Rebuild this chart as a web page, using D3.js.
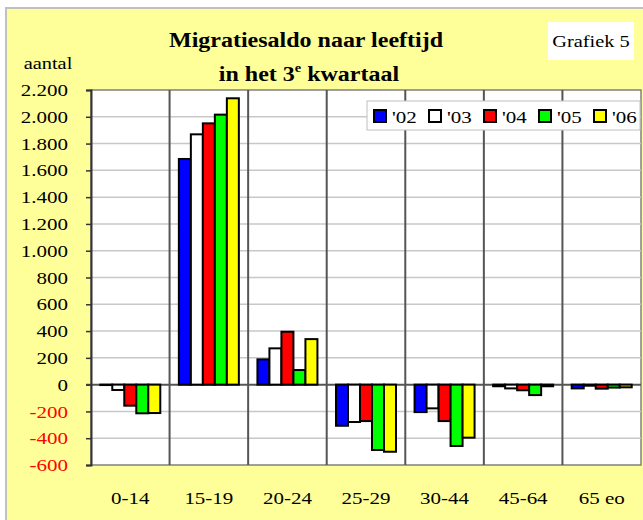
<!DOCTYPE html>
<meta charset="utf-8">
<head>
<title>Migratiesaldo naar leeftijd</title>
<style>
body { margin: 0; background-color: #FFF; }
svg text { font-family: 'Liberation Serif', 'Times New Roman', serif; }
</style>
</head>
<body>
<script src="https://cdn.jsdelivr.net/npm/d3@7"></script>
<script>
var categories = ["0-14", "15-19", "20-24", "25-29", "30-44", "45-64", "65 eo"];
var seriesNames = ["'02", "'03", "'04", "'05", "'06"];
var seriesColors = ["#0000FF", "#FFFFFF", "#FF0000", "#00FF00", "#FFFF00"];
var v02 = [-3, 1685, 189, -307, -205, -12, -28];
var v03 = [-40, 1869, 271, -279, -177, -28, -8];
var v04 = [-157, 1951, 395, -272, -272, -42, -30];
var v05 = [-214, 2016, 109, -488, -458, -78, -22];
var v06 = [-212, 2138, 340, -501, -396, -12, -20];
var yTicks = [-600, -400, -200, 0, 200, 400, 600, 800, 1000, 1200, 1400, 1600, 1800, 2000, 2200];

var series = [v02, v03, v04, v05, v06];
var width = 643, height = 520;
var plot = {left: 91, top: 90, right: 641, bottom: 465};
var SX = 1.2; // the original text is a bit wider than it is tall

var svg = d3.select("body").append("svg")
    .attr("width", width)
    .attr("height", height)
    .attr("font-family", "'Liberation Serif', serif");

// draws text at x,y stretched horizontally
function label(parent, x, y, str, size, anchor) {
    return parent.append("text")
        .attr("transform", "translate(" + x + "," + y + ") scale(" + SX + ",1)")
        .attr("text-anchor", anchor || "middle")
        .attr("font-size", size)
        .text(str);
}

// background
svg.append("rect").attr("x", 6).attr("y", 8).attr("width", width).attr("height", height)
    .attr("fill", "#FFFF99").attr("stroke", "#C0C0C0").attr("stroke-width", 2);

var x = d3.scaleBand().domain(categories).range([plot.left, plot.right]).padding(0);
var xs = d3.scaleBand().domain(d3.range(5)).range([0, 60]);
var y = d3.scaleLinear().domain([-600, 2200]).range([plot.bottom, plot.top]);

svg.append("rect").attr("x", plot.left).attr("y", plot.top)
    .attr("width", plot.right - plot.left).attr("height", plot.bottom - plot.top)
    .attr("fill", "#FFF").attr("stroke", "#808080").attr("stroke-width", 1.5);

// horizontal grid
svg.append("g").selectAll("line").data(yTicks.filter(function(d){return d != 0 && d != -600 && d != 2200;}))
    .enter().append("line")
    .attr("x1", plot.left).attr("x2", plot.right)
    .attr("y1", function(d){return y(d);}).attr("y2", function(d){return y(d);})
    .attr("stroke", "#C8C8C8").attr("stroke-width", 1.5);

// vertical category dividers
svg.append("g").selectAll("line").data(categories.slice(1))
    .enter().append("line")
    .attr("x1", function(d){return x(d);}).attr("x2", function(d){return x(d);})
    .attr("y1", plot.top).attr("y2", plot.bottom)
    .attr("stroke", "#555").attr("stroke-width", 2);

// zero line
svg.append("line").attr("x1", plot.left - 5).attr("x2", plot.right)
    .attr("y1", y(0)).attr("y2", y(0))
    .attr("stroke", "#555").attr("stroke-width", 2);

// bars
var groups = svg.append("g").selectAll("g").data(categories)
    .enter().append("g")
    .attr("transform", function(d){return "translate(" + (x(d) + (x.bandwidth() - 60) / 2) + ",0)";});
groups.selectAll("rect").data(function(d, i){return series.map(function(s, k){return {k: k, v: s[i]};});})
    .enter().append("rect")
    .attr("x", function(d){return xs(d.k);})
    .attr("width", xs.bandwidth())
    .attr("y", function(d){return y(Math.max(0, d.v));})
    .attr("height", function(d){return Math.abs(y(d.v) - y(0));})
    .attr("fill", function(d){return seriesColors[d.k];})
    .attr("stroke", "#000").attr("stroke-width", 2);

// y axis
var yAxis = svg.append("g").attr("transform", "translate(" + plot.left + ",0)")
    .call(d3.axisLeft(y).tickValues(yTicks).tickSize(5)
        .tickFormat(function(d){return d3.format(",")(d).replace(/,/g, ".").replace("\u2212", "-");}));
yAxis.attr("font-family", null).attr("font-size", null);
yAxis.select(".domain").attr("stroke", "#333").attr("stroke-width", 2);
yAxis.selectAll(".tick line").attr("stroke", "#333").attr("stroke-width", 1.5);
yAxis.selectAll(".tick text")
    .attr("font-size", 17.5)
    .attr("x", -23 / SX)
    .attr("transform", "scale(" + SX + ",1)")
    .attr("fill", function(d){return d < 0 ? "#FF0000" : "#000";});

// x labels
var xl = svg.append("g");
categories.forEach(function(c){
    label(xl, x(c) + x.bandwidth() / 2, 504, c, 17.5);
});

// titles
label(svg, 306, 47, "Migratiesaldo naar leeftijd", 20).attr("font-weight", "bold");
var t2 = svg.append("text")
    .attr("transform", "translate(309,81) scale(" + SX + ",1)")
    .attr("text-anchor", "middle")
    .attr("font-size", 20).attr("font-weight", "bold");
t2.append("tspan").text("in het 3");
t2.append("tspan").attr("dy", -9).attr("font-size", 12).text("e");
t2.append("tspan").attr("dy", 9).text(" kwartaal");

label(svg, 48, 69, "aantal", 17);

svg.append("rect").attr("x", 548).attr("y", 22).attr("width", 86).attr("height", 38).attr("fill", "#FFF");
label(svg, 591, 47, "Grafiek 5", 17);

// legend
var legend = svg.append("g");
legend.append("rect").attr("x", 367).attr("y", 101).attr("width", 273).attr("height", 29)
    .attr("fill", "#FFF").attr("stroke", "#C0C0C0");
var li = legend.selectAll("g").data(seriesNames).enter().append("g")
    .attr("transform", function(d, i){return "translate(" + (374 + i * 55) + ",110)";});
li.append("rect").attr("width", 12).attr("height", 12)
    .attr("fill", function(d, i){return seriesColors[i];})
    .attr("stroke", "#000").attr("stroke-width", 2);
li.each(function(d){ label(d3.select(this), 18, 13, d, 17.5, "start"); });
</script>
</body>
